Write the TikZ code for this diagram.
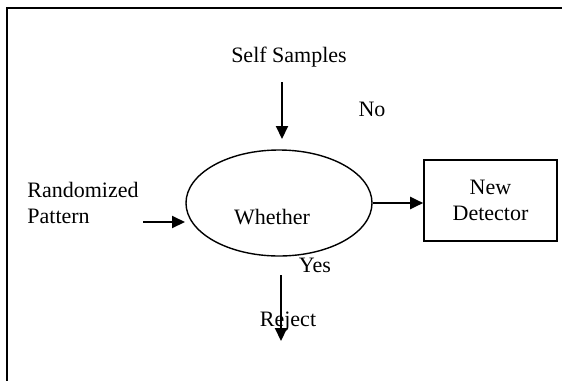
\documentclass[tikz,border=0pt]{standalone}
\usepackage{fontspec}
\setmainfont{Liberation Serif}
\usetikzlibrary{shapes.geometric}
\usetikzlibrary{arrows.meta}

\begin{document}
\begin{tikzpicture}
    [
    x=0.5pt,y=-0.5pt,
    every node/.style={font=\fontsize{11}{13}\selectfont,inner sep=0pt},
    flow/.style={-{Triangle[length=6.5pt,width=6pt]},line width=1pt},
    ]
    \useasboundingbox (0,0) rectangle (562,381);
    \draw [line width=0.9pt] (562,8) -| (7,381);

    \node (dec) at (279,203) [ellipse,draw,line width=0.7pt,minimum width=93pt,minimum height=53pt,
      label={[xshift=-3.5pt,yshift=-7pt]center:Whether}] {};
    \node (det) at (490.5,200.5) [draw,line width=0.8pt,minimum width=66.5pt,minimum height=40.5pt,align=center] {New\\Detector};

    \node (self) at (289,57) {Self Samples};
    \node (no) at (372,109) {No};
    \node (rand) at (27,203) [anchor=west,align=left] {Randomized\\Pattern};
    \node (yes) at (315,265) {Yes};
    \node (rej) at (288,322) {Reject};

    \coordinate (self-top) at (282,82);
    \coordinate (self-tip) at (282,139);
    \coordinate (rand-tail) at (143,222);
    \coordinate (rand-tip) at (185,222);
    \coordinate (yes-top) at (281,275);
    \coordinate (yes-tip) at (281,341);
    \draw [flow] (self-top) -- (self-tip);
    \draw [flow] (rand-tail) -- (rand-tip);
    \draw [flow] (dec.east) -- (dec.east -| det.west);
    \draw [flow] (yes-top) -- (yes-tip);
  \end{tikzpicture}
\end{document}
